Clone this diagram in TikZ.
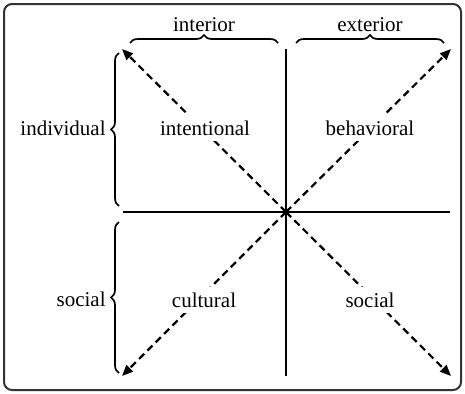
\documentclass[tikz,border=0pt]{standalone}
\usepackage{fontspec}
\setmainfont{Liberation Serif}
\usetikzlibrary{arrows.meta,decorations.pathreplacing}
\begin{document}
\begin{tikzpicture}[x=0.5pt,y=-0.5pt,
  axis/.style={line width=1pt},
  diag/.style={line width=1.1pt,dash pattern=on 3.6pt off 2.3pt,-{Triangle[length=5.5pt,width=4.5pt]}},
  lbl/.style={font=\fontsize{10.5}{12}\selectfont,inner sep=1.5pt},
  qlbl/.style={lbl,fill=white,inner sep=3pt},
  bracestyle/.style={line width=0.85pt,decorate,decoration={brace,amplitude=4pt}}]
\useasboundingbox (0,0) rectangle (465,393);
\draw[line width=1pt,black!80,rounded corners=4pt] (4,4) rectangle (461,390);
% axes
\coordinate (c) at (286,212);
\coordinate (vt) at (286,49);
\coordinate (vb) at (286,376);
\coordinate (hl) at (123,212);
\coordinate (hr) at (450,212);
\draw[axis] (vt) -- (vb);
\draw[axis] (hl) -- (hr);
% corners
\coordinate (tl) at (122,49);
\coordinate (tr) at (451,49);
\coordinate (bl) at (122,376);
\coordinate (br) at (451,376);
\draw[diag] (c) -- (tl);
\draw[diag] (c) -- (tr);
\draw[diag] (c) -- (bl);
\draw[diag] (c) -- (br);
% quadrant labels
\node[qlbl] (intentional) at (205,128) {intentional};
\node[qlbl] (behavioral) at (370,128) {behavioral};
\node[qlbl] (cultural) at (204,300) {cultural};
\node[qlbl] (social2) at (370,300) {social};
% top braces
\coordinate (ia) at (130,43);
\coordinate (ib) at (278,43);
\coordinate (ea) at (296,43);
\coordinate (eb) at (444,43);
\draw[bracestyle] (ia) -- (ib);
\draw[bracestyle] (ea) -- (eb);
\node[lbl] (interior) at (204,25) {interior};
\node[lbl] (exterior) at (370,25) {exterior};
% left braces
\coordinate (da) at (119,206);
\coordinate (db) at (119,53);
\coordinate (sa) at (119,373);
\coordinate (sb) at (119,222);
\draw[bracestyle] (da) -- (db);
\draw[bracestyle] (sa) -- (sb);
\node[lbl,anchor=east] (individual) at (109,128) {individual};
\node[lbl,anchor=east] (social1) at (109,299) {social};
\end{tikzpicture}
\end{document}
